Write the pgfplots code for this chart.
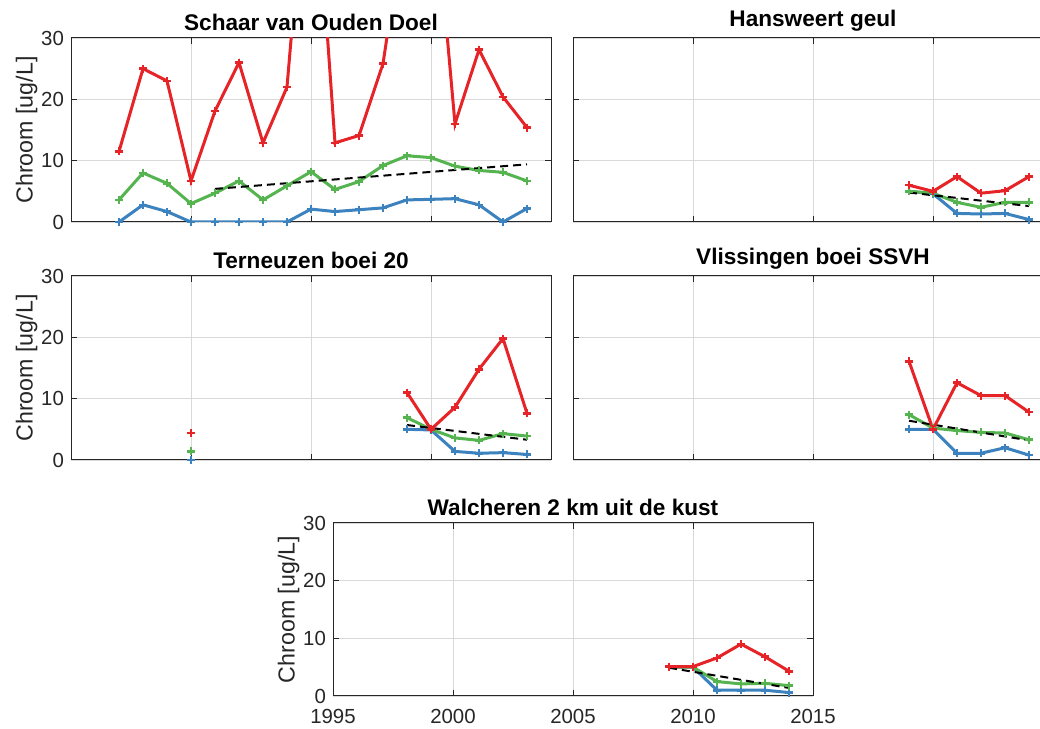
\documentclass[border=0pt]{standalone}
\usepackage{fontspec}
\setmainfont{Liberation Sans}
\usepackage{pgfplots}
\pgfplotsset{compat=1.18}

\definecolor{cr}{RGB}{230,35,38}
\definecolor{cg}{RGB}{85,180,80}
\definecolor{cb}{RGB}{60,130,190}
\definecolor{axgray}{RGB}{38,38,38}

\pgfplotsset{
  panel/.style={
    scale only axis, width=240pt, height=92pt,
    xmin=1995, xmax=2015, ymin=0, ymax=30,
    xtick={1995,2000,...,2015}, ytick={0,10,20,30},
    xticklabels={},
    grid=major, major grid style={black!15, line width=0.4pt},
    tick align=inside, major tick length=3pt,
    axis line style={axgray, line width=0.5pt},
    tick style={axgray, line width=0.5pt},
    title style={font=\bfseries\fontsize{11.3}{13}\selectfont, yshift=-6pt},
    label style={font=\fontsize{11.6}{13}\selectfont, text=axgray},
    tick label style={font=\fontsize{10.2}{12}\selectfont, text=axgray},
    ylabel={Chroom [ug/L]}, ylabel shift=-5pt,
    unbounded coords=jump,
    /pgf/number format/assume math mode=true,
    /pgf/number format/1000 sep={},
  },
  right panel/.style={yticklabels={}, ylabel={}},
  sb/.style={cb, line width=1.5pt, mark=+, mark size=2pt, mark options={line width=1.3pt}},
  sg/.style={cg, line width=1.5pt, mark=+, mark size=2pt, mark options={line width=1.3pt}},
  sr/.style={cr, line width=1.5pt, mark=+, mark size=2pt, mark options={line width=1.3pt}},
  st/.style={black, line width=1pt, dash pattern=on 4pt off 2.5pt},
}

\begin{document}
\begin{tikzpicture}

% Schaar van Ouden Doel
\begin{axis}[panel, at={(35.5pt,253.5pt)}, anchor=south west, title={Schaar van Ouden Doel}]
\addplot[sb] coordinates {(1997,0) (1998,2.8) (1999,1.7) (2000,0) (2001,0) (2002,0) (2003,0) (2004,0) (2005,2.1) (2006,1.7) (2007,2.0) (2008,2.3) (2009,3.6) (2010,3.7) (2011,3.8) (2012,2.8) (2013,0) (2014,2.2)};
\addplot[sg] coordinates {(1997,3.6) (1998,8.0) (1999,6.3) (2000,3.0) (2001,4.7) (2002,6.7) (2003,3.6) (2004,5.9) (2005,8.2) (2006,5.3) (2007,6.6) (2008,9.2) (2009,10.8) (2010,10.5) (2011,9.1) (2012,8.4) (2013,8.1) (2014,6.7)};
\addplot[st] coordinates {(2001,5.4) (2014,9.4)};
\addplot[sr] coordinates {(1997,11.5) (1998,25.0) (1999,23.0) (2000,6.7) (2001,18.1) (2002,26.0) (2003,12.9) (2004,22.0) (2005,68) (2006,12.9) (2007,14.1) (2008,25.8) (2009,52) (2010,60) (2011,16.0) (2012,28.1) (2013,20.4) (2014,15.4)};
\end{axis}

% Hansweert geul
\begin{axis}[panel, right panel, at={(286.5pt,253.5pt)}, anchor=south west, title={Hansweert geul}]
\addplot[sb] coordinates {(2009,5.0) (2010,4.6) (2011,1.4) (2012,1.3) (2013,1.4) (2014,0.4)};
\addplot[sg] coordinates {(2009,5.0) (2010,4.7) (2011,3.2) (2012,2.4) (2013,3.2) (2014,3.2)};
\addplot[st] coordinates {(2009,4.8) (2014,2.6)};
\addplot[sr] coordinates {(2009,6.0) (2010,5.0) (2011,7.4) (2012,4.7) (2013,5.1) (2014,7.4)};
\end{axis}

% Terneuzen boei 20
\begin{axis}[panel, at={(35.5pt,134.5pt)}, anchor=south west, title={Terneuzen boei 20}]
\addplot[sb] coordinates {(2000,0) (2001,nan) (2009,5.0) (2010,4.9) (2011,1.4) (2012,1.1) (2013,1.2) (2014,0.9)};
\addplot[sg] coordinates {(2000,1.4) (2001,nan) (2009,6.9) (2010,5.0) (2011,3.6) (2012,3.2) (2013,4.3) (2014,3.9)};
\addplot[st] coordinates {(2009,5.7) (2014,3.3)};
\addplot[sr] coordinates {(2000,4.4) (2001,nan) (2009,11.0) (2010,5.0) (2011,8.6) (2012,14.8) (2013,19.8) (2014,7.6)};
\end{axis}

% Vlissingen boei SSVH
\begin{axis}[panel, right panel, at={(286.5pt,134.5pt)}, anchor=south west, title={Vlissingen boei SSVH}]
\addplot[sb] coordinates {(2009,5.0) (2010,5.0) (2011,1.1) (2012,1.1) (2013,2.0) (2014,0.8)};
\addplot[sg] coordinates {(2009,7.4) (2010,5.2) (2011,4.8) (2012,4.5) (2013,4.4) (2014,3.3)};
\addplot[st] coordinates {(2009,6.4) (2014,3.2)};
\addplot[sr] coordinates {(2009,16.1) (2010,5.0) (2011,12.6) (2012,10.5) (2013,10.5) (2014,7.8)};
\end{axis}

% Walcheren 2 km uit de kust
\begin{axis}[panel, at={(166.5pt,16.5pt)}, anchor=south west, height=86.5pt,
  title={Walcheren 2 km uit de kust},
  xticklabels={1995,2000,2005,2010,2015}, xticklabel style={yshift=-3pt}]
\addplot[sb] coordinates {(2009,5.0) (2010,5.0) (2011,1.0) (2012,1.0) (2013,1.0) (2014,0.6)};
\addplot[sg] coordinates {(2009,5.0) (2010,5.0) (2011,2.5) (2012,2.1) (2013,2.2) (2014,1.8)};
\addplot[st] coordinates {(2009,4.9) (2014,1.4)};
\addplot[sr] coordinates {(2009,5.1) (2010,5.1) (2011,6.6) (2012,9.0) (2013,6.8) (2014,4.3)};
\end{axis}

\pgfresetboundingbox
\useasboundingbox (0,0) rectangle (520pt,364.5pt);
\end{tikzpicture}
\end{document}
